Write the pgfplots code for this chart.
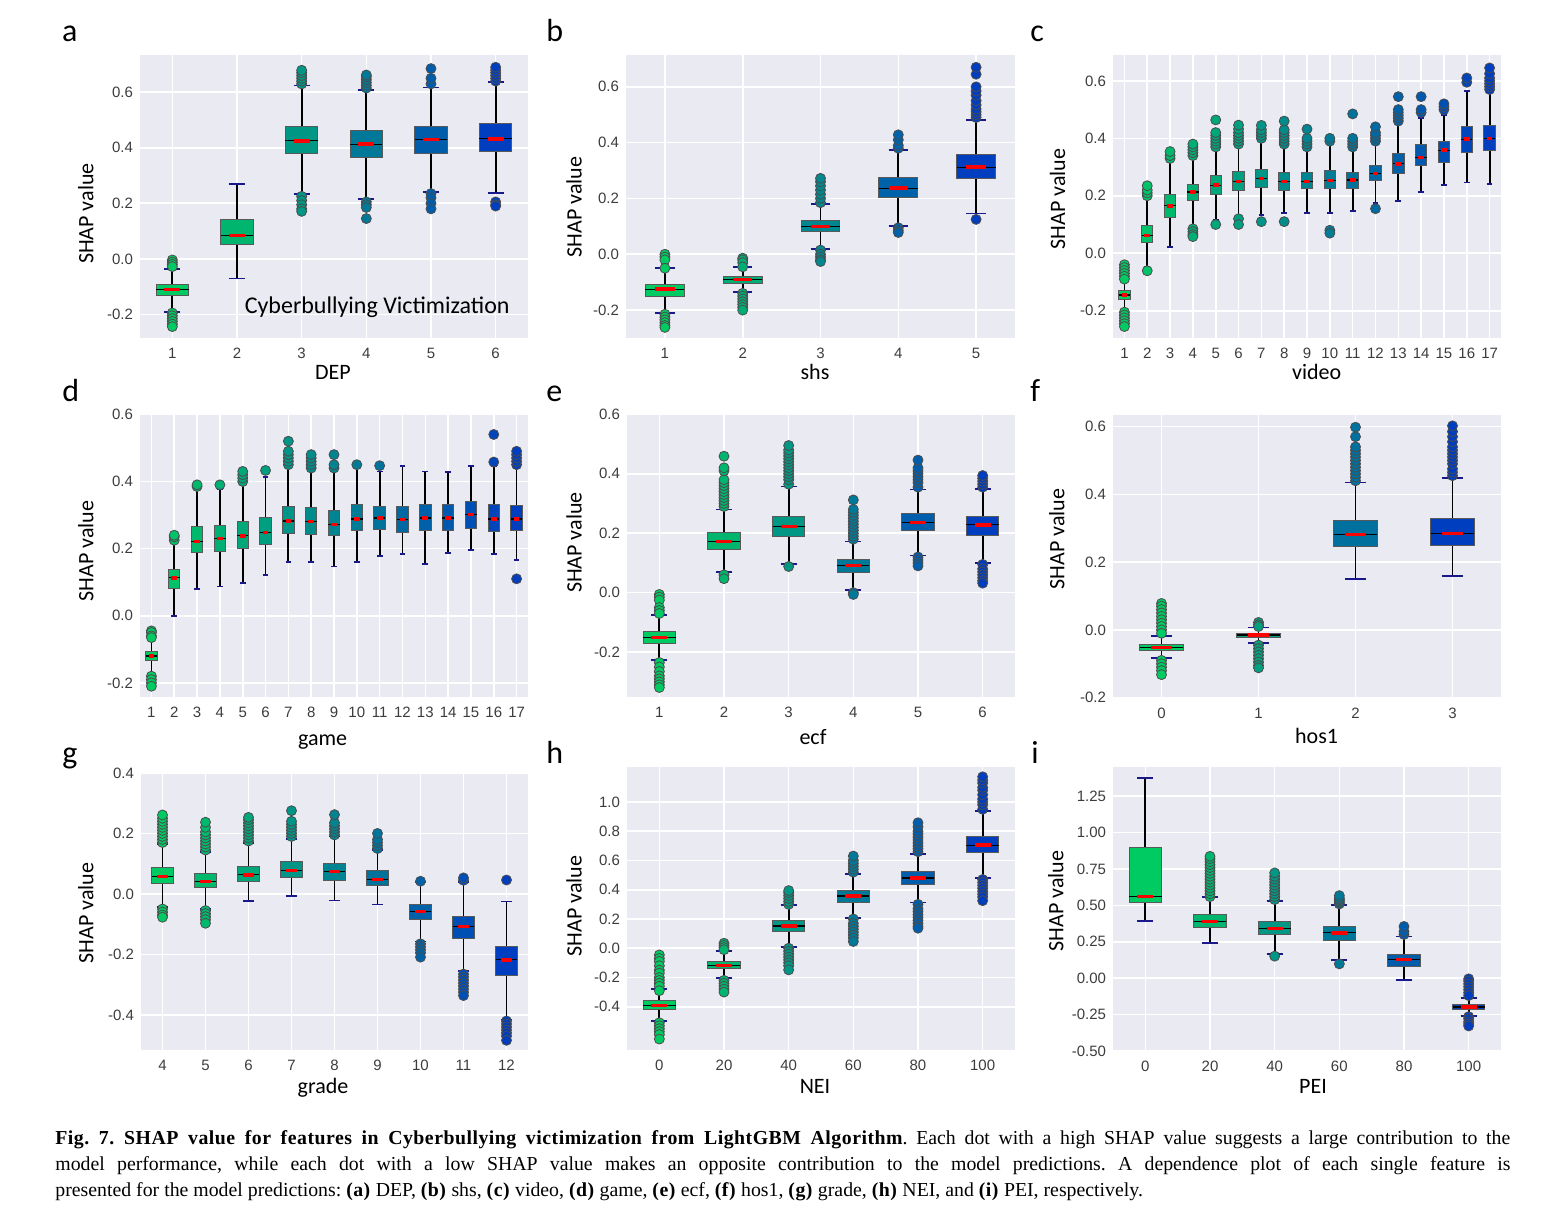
\documentclass[border=0pt]{standalone}
\usepackage{pgfplots}
\pgfplotsset{compat=1.18}
\usepgfplotslibrary{statistics}
\usepackage{fontspec}
\setmainfont{Carlito}
\newfontfamily\ticfont{Liberation Sans}
\newfontfamily\capfont[BoldFeatures={LetterSpace=2.5}]{Liberation Serif}
\definecolor{bgc}{HTML}{EAEAF2}
\definecolor{cg}{RGB}{0,202,98}
\definecolor{cb}{RGB}{0,62,192}
\definecolor{capc}{RGB}{25,25,140}
\definecolor{tickc}{RGB}{60,60,60}
\pgfplotsset{
  /pgfplots/boxplot/draw/lower whisker/.code={%
    \draw[black, line width=0.9pt] (boxplot cs:\pgfplotsboxplotvalue{lower whisker}) -- (boxplot cs:\pgfplotsboxplotvalue{lower quartile});
    \draw[capc, line width=0.9pt] (boxplot whisker cs:\pgfplotsboxplotvalue{lower whisker},0) -- (boxplot whisker cs:\pgfplotsboxplotvalue{lower whisker},1);
  },
  /pgfplots/boxplot/draw/upper whisker/.code={%
    \draw[black, line width=0.9pt] (boxplot cs:\pgfplotsboxplotvalue{upper whisker}) -- (boxplot cs:\pgfplotsboxplotvalue{upper quartile});
    \draw[capc, line width=0.9pt] (boxplot whisker cs:\pgfplotsboxplotvalue{upper whisker},0) -- (boxplot whisker cs:\pgfplotsboxplotvalue{upper whisker},1);
  },
  /pgfplots/boxplot/draw/median/.code={%
    \draw[black, line width=0.6pt] (boxplot box cs:\pgfplotsboxplotvalue{median},0) -- (boxplot box cs:\pgfplotsboxplotvalue{median},1);
    \draw[red, line width=1.7pt] (boxplot box cs:\pgfplotsboxplotvalue{median},0.25) -- (boxplot box cs:\pgfplotsboxplotvalue{median},0.75);
  },
  shapstyle/.style={
    scale only axis, anchor=north west,
    axis background/.style={fill=bgc},
    axis line style={draw=none},
    major tick length=0pt,
    tick style={draw=none},
    grid=major,
    grid style={draw=white, line width=0.8pt},
    tick label style={font=\ticfont\fontsize{7.5}{9}\selectfont, text=tickc},
    xticklabel style={yshift=-1.5pt},
    /pgf/number format/assume math mode=true,
    boxplot/draw direction=y,
    boxplot/box extend=0.5,
    boxplot/whisker extend=0.25,
    clip=false,
  },
}
% pos, lower whisker, lower quartile, median, upper quartile, upper whisker, percent green, outliers
\newcommand{\bx}[8]{%
  \addplot[boxplot prepared={draw position=#1, lower whisker=#2, lower quartile=#3, median=#4, upper quartile=#5, upper whisker=#6},
    boxplot/every box/.style={fill=cg!#7!cb, draw=black!65, line width=0.5pt},
    draw=black!65, mark=*, mark size=2.5pt,
    mark options={fill=cg!#7!cb, draw=black!70, line width=0.4pt, solid}]
    table[row sep=\\, y index=0] {v\\ #8};%
}
\newcommand{\bxn}[7]{%
  \addplot[boxplot prepared={draw position=#1, lower whisker=#2, lower quartile=#3, median=#4, upper quartile=#5, upper whisker=#6},
    boxplot/every box/.style={fill=cg!#7!cb, draw=black!65, line width=0.5pt},
    draw=black!65, mark=*, mark size=2.5pt,
    mark options={fill=cg!#7!cb, draw=black!70, line width=0.4pt, solid}]
    coordinates {};%
}
\begin{document}
\begin{tikzpicture}
\path[use as bounding box] (0,0) rectangle (771pt,-613pt);

% ---------------- a: DEP
\begin{axis}[shapstyle, at={(70pt,-27.5pt)}, width=194pt, height=141.5pt,
  xmin=0.5, xmax=6.5, ymin=-0.285, ymax=0.734,
  xtick={1,...,6}, xticklabels={1,2,3,4,5,6},
  ytick={-0.2,0,0.2,0.4,0.6}, yticklabels={-0.2,0.0,0.2,0.4,0.6}]
\bx{1}{-0.19}{-0.133}{-0.11}{-0.094}{-0.036}{100}{-0.004\\ -0.012\\ -0.02\\ -0.028\\ -0.195\\ -0.205\\ -0.215\\ -0.225\\ -0.235\\ -0.244\\}
\bxn{2}{-0.071}{0.053}{0.084}{0.143}{0.269}{86}
\bx{3}{0.233}{0.378}{0.425}{0.475}{0.624}{64}{0.63\\ 0.64\\ 0.65\\ 0.66\\ 0.67\\ 0.679\\ 0.225\\ 0.21\\ 0.195\\ 0.18\\ 0.171\\}
\bx{4}{0.216}{0.364}{0.413}{0.463}{0.608}{42}{0.615\\ 0.625\\ 0.635\\ 0.645\\ 0.655\\ 0.662\\ 0.205\\ 0.195\\ 0.185\\ 0.145\\}
\bx{5}{0.24}{0.381}{0.430}{0.475}{0.617}{22}{0.63\\ 0.65\\ 0.685\\ 0.235\\ 0.22\\ 0.2\\ 0.18\\}
\bx{6}{0.237}{0.386}{0.432}{0.486}{0.636}{0}{0.64\\ 0.65\\ 0.66\\ 0.67\\ 0.68\\ 0.69\\ 0.205\\ 0.195\\ 0.19\\}
\end{axis}

% ---------------- b: shs
\begin{axis}[shapstyle, at={(313pt,-27.5pt)}, width=194.5pt, height=141.5pt,
  xmin=0.5, xmax=5.5, ymin=-0.30, ymax=0.714,
  xtick={1,...,5}, xticklabels={1,2,3,4,5},
  ytick={-0.2,0,0.2,0.4,0.6}, yticklabels={-0.2,0.0,0.2,0.4,0.6}]
\bx{1}{-0.211}{-0.152}{-0.125}{-0.11}{-0.05}{100}{0.0\\ -0.01\\ -0.02\\ -0.05\\ -0.215\\ -0.225\\ -0.235\\ -0.245\\ -0.255\\ -0.262\\}
\bx{2}{-0.136}{-0.103}{-0.09}{-0.079}{-0.047}{80}{-0.014\\ -0.02\\ -0.03\\ -0.045\\ -0.14\\ -0.15\\ -0.16\\ -0.17\\ -0.18\\ -0.19\\ -0.2\\}
\bx{3}{0.019}{0.08}{0.1}{0.121}{0.179}{52}{0.185\\ 0.2\\ 0.215\\ 0.23\\ 0.245\\ 0.26\\ 0.272\\ 0.015\\ 0.0\\ -0.01\\ -0.02\\ -0.026\\}
\bx{4}{0.1}{0.203}{0.237}{0.275}{0.374}{26}{0.38\\ 0.39\\ 0.41\\ 0.428\\ 0.095\\ 0.085\\ 0.078\\}
\bx{5}{0.146}{0.272}{0.312}{0.356}{0.481}{0}{0.49\\ 0.5\\ 0.51\\ 0.52\\ 0.535\\ 0.55\\ 0.57\\ 0.585\\ 0.6\\ 0.645\\ 0.67\\ 0.125\\}
\end{axis}

% ---------------- c: video
\begin{axis}[shapstyle, at={(556.5pt,-27.5pt)}, width=194pt, height=141.5pt,
  xmin=0.5, xmax=17.5, ymin=-0.295, ymax=0.69,
  xtick={1,...,17}, xticklabels={1,2,3,4,5,6,7,8,9,10,11,12,13,14,15,16,17},
  ytick={-0.2,0,0.2,0.4,0.6}, yticklabels={-0.2,0.0,0.2,0.4,0.6}]
\bx{1}{-0.197}{-0.162}{-0.145}{-0.13}{-0.093}{100}{-0.04\\ -0.05\\ -0.06\\ -0.07\\ -0.08\\ -0.09\\ -0.205\\ -0.215\\ -0.225\\ -0.235\\ -0.245\\ -0.255\\}
\bx{2}{-0.046}{0.038}{0.061}{0.095}{0.197}{94}{0.2\\ 0.21\\ 0.22\\ 0.235\\ -0.061\\}
\bx{3}{0.021}{0.125}{0.165}{0.203}{0.32}{88}{0.33\\ 0.34\\ 0.354\\}
\bx{4}{0.093}{0.182}{0.213}{0.241}{0.33}{81}{0.34\\ 0.35\\ 0.36\\ 0.37\\ 0.38\\ 0.085\\ 0.075\\ 0.065\\ 0.058\\}
\bx{5}{0.115}{0.205}{0.237}{0.271}{0.36}{75}{0.37\\ 0.38\\ 0.39\\ 0.40\\ 0.41\\ 0.42\\ 0.464\\ 0.1\\}
\bx{6}{0.13}{0.22}{0.249}{0.283}{0.37}{69}{0.38\\ 0.39\\ 0.40\\ 0.41\\ 0.42\\ 0.432\\ 0.446\\ 0.12\\ 0.1\\}
\bx{7}{0.133}{0.228}{0.261}{0.293}{0.39}{62}{0.40\\ 0.41\\ 0.42\\ 0.43\\ 0.445\\ 0.11\\}
\bx{8}{0.141}{0.22}{0.249}{0.282}{0.37}{56}{0.38\\ 0.39\\ 0.40\\ 0.41\\ 0.42\\ 0.43\\ 0.46\\ 0.11\\}
\bx{9}{0.141}{0.226}{0.249}{0.28}{0.36}{50}{0.37\\ 0.38\\ 0.39\\ 0.40\\ 0.432\\}
\bx{10}{0.139}{0.224}{0.253}{0.288}{0.38}{44}{0.39\\ 0.40\\ 0.08\\ 0.07\\}
\bx{11}{0.148}{0.226}{0.255}{0.282}{0.36}{38}{0.37\\ 0.38\\ 0.39\\ 0.40\\ 0.485\\}
\bx{12}{0.176}{0.252}{0.278}{0.306}{0.38}{31}{0.39\\ 0.40\\ 0.41\\ 0.42\\ 0.44\\ 0.155\\}
\bx{13}{0.182}{0.278}{0.311}{0.348}{0.45}{25}{0.46\\ 0.47\\ 0.48\\ 0.49\\ 0.5\\ 0.545\\}
\bx{14}{0.214}{0.305}{0.334}{0.377}{0.47}{19}{0.49\\ 0.5\\ 0.545\\}
\bx{15}{0.238}{0.317}{0.359}{0.388}{0.48}{12}{0.5\\ 0.51\\ 0.52\\}
\bx{16}{0.246}{0.351}{0.397}{0.44}{0.565}{6}{0.595\\ 0.61\\}
\bx{17}{0.24}{0.359}{0.399}{0.443}{0.56}{0}{0.57\\ 0.58\\ 0.59\\ 0.6\\ 0.61\\ 0.625\\ 0.645\\}
\end{axis}

% ---------------- d: game
\begin{axis}[shapstyle, at={(70pt,-207pt)}, width=194pt, height=141.5pt,
  xmin=0.5, xmax=17.5, ymin=-0.242, ymax=0.601,
  xtick={1,...,17}, xticklabels={1,2,3,4,5,6,7,8,9,10,11,12,13,14,15,16,17},
  ytick={-0.2,0,0.2,0.4,0.6}, yticklabels={-0.2,0.0,0.2,0.4,0.6}]
\bx{1}{-0.17}{-0.134}{-0.12}{-0.106}{-0.074}{100}{-0.045\\ -0.05\\ -0.06\\ -0.065\\ -0.18\\ -0.19\\ -0.2\\ -0.21\\}
\bx{2}{0.0}{0.081}{0.113}{0.137}{0.215}{94}{0.225\\ 0.235\\ 0.24\\}
\bx{3}{0.079}{0.187}{0.222}{0.266}{0.38}{88}{0.385\\ 0.39\\}
\bx{4}{0.087}{0.192}{0.23}{0.268}{0.376}{81}{0.39\\}
\bx{5}{0.097}{0.201}{0.238}{0.281}{0.39}{75}{0.4\\ 0.41\\ 0.42\\ 0.43\\}
\bx{6}{0.122}{0.211}{0.248}{0.293}{0.414}{69}{0.433\\}
\bx{7}{0.161}{0.246}{0.282}{0.326}{0.44}{62}{0.45\\ 0.46\\ 0.47\\ 0.48\\ 0.49\\ 0.52\\}
\bx{8}{0.161}{0.243}{0.28}{0.321}{0.43}{56}{0.44\\ 0.45\\ 0.46\\ 0.47\\ 0.48\\}
\bx{9}{0.147}{0.238}{0.272}{0.315}{0.43}{50}{0.44\\ 0.45\\ 0.48\\}
\bx{10}{0.161}{0.253}{0.288}{0.33}{0.44}{44}{0.45\\}
\bx{11}{0.177}{0.256}{0.291}{0.326}{0.43}{38}{0.447\\}
\bxn{12}{0.184}{0.248}{0.286}{0.326}{0.445}{31}
\bxn{13}{0.154}{0.253}{0.291}{0.33}{0.43}{25}
\bxn{14}{0.187}{0.253}{0.291}{0.33}{0.429}{19}
\bxn{15}{0.197}{0.26}{0.301}{0.34}{0.445}{12}
\bx{16}{0.184}{0.25}{0.288}{0.33}{0.445}{6}{0.458\\ 0.54\\}
\bx{17}{0.166}{0.253}{0.288}{0.328}{0.44}{0}{0.45\\ 0.46\\ 0.47\\ 0.48\\ 0.49\\ 0.11\\}
\end{axis}

% ---------------- e: ecf
\begin{axis}[shapstyle, at={(313.5pt,-207pt)}, width=194pt, height=141.5pt,
  xmin=0.5, xmax=6.5, ymin=-0.351, ymax=0.601,
  xtick={1,...,6}, xticklabels={1,2,3,4,5,6},
  ytick={-0.2,0,0.2,0.4,0.6}, yticklabels={-0.2,0.0,0.2,0.4,0.6}]
\bx{1}{-0.227}{-0.171}{-0.151}{-0.132}{-0.076}{100}{-0.006\\ -0.015\\ -0.025\\ -0.05\\ -0.06\\ -0.07\\ -0.235\\ -0.25\\ -0.265\\ -0.28\\ -0.29\\ -0.3\\ -0.31\\ -0.319\\}
\bx{2}{0.069}{0.145}{0.172}{0.201}{0.28}{86}{0.29\\ 0.3\\ 0.31\\ 0.32\\ 0.33\\ 0.34\\ 0.35\\ 0.36\\ 0.37\\ 0.38\\ 0.41\\ 0.42\\ 0.459\\ 0.06\\ 0.047\\}
\bx{3}{0.097}{0.19}{0.223}{0.257}{0.357}{64}{0.365\\ 0.38\\ 0.39\\ 0.4\\ 0.41\\ 0.42\\ 0.43\\ 0.44\\ 0.45\\ 0.46\\ 0.47\\ 0.48\\ 0.495\\ 0.088\\}
\bx{4}{0.01}{0.069}{0.091}{0.111}{0.172}{42}{0.18\\ 0.19\\ 0.2\\ 0.21\\ 0.22\\ 0.23\\ 0.24\\ 0.25\\ 0.26\\ 0.27\\ 0.28\\ 0.312\\ 0.0\\ -0.006\\}
\bx{5}{0.125}{0.209}{0.237}{0.265}{0.347}{22}{0.355\\ 0.37\\ 0.38\\ 0.39\\ 0.4\\ 0.41\\ 0.42\\ 0.446\\ 0.12\\ 0.11\\ 0.1\\ 0.09\\}
\bx{6}{0.1}{0.192}{0.228}{0.257}{0.349}{0}{0.355\\ 0.365\\ 0.375\\ 0.385\\ 0.394\\ 0.095\\ 0.08\\ 0.07\\ 0.06\\ 0.05\\ 0.04\\ 0.032\\}
\end{axis}

% ---------------- f: hos1
\begin{axis}[shapstyle, at={(556.5pt,-207.5pt)}, width=194pt, height=141.5pt,
  boxplot/box extend=0.45, boxplot/whisker extend=0.22,
  xmin=-0.5, xmax=3.5, ymin=-0.201, ymax=0.634,
  xtick={0,...,3}, xticklabels={0,1,2,3},
  ytick={-0.2,0,0.2,0.4,0.6}, yticklabels={-0.2,0.0,0.2,0.4,0.6}]
\bx{0}{-0.083}{-0.061}{-0.052}{-0.044}{-0.019}{100}{0.078\\ 0.07\\ 0.06\\ 0.05\\ 0.04\\ 0.03\\ 0.02\\ 0.01\\ 0.0\\ -0.01\\ -0.09\\ -0.1\\ -0.11\\ -0.12\\ -0.132\\}
\bx{1}{-0.038}{-0.022}{-0.015}{-0.01}{0.007}{70}{0.022\\ 0.015\\ 0.01\\ -0.045\\ -0.055\\ -0.065\\ -0.075\\ -0.085\\ -0.095\\ -0.105\\ -0.112\\}
\bx{2}{0.15}{0.247}{0.282}{0.323}{0.435}{36}{0.44\\ 0.45\\ 0.46\\ 0.47\\ 0.48\\ 0.49\\ 0.5\\ 0.51\\ 0.52\\ 0.53\\ 0.54\\ 0.57\\ 0.598\\}
\bx{3}{0.159}{0.249}{0.284}{0.329}{0.448}{0}{0.455\\ 0.465\\ 0.475\\ 0.49\\ 0.5\\ 0.51\\ 0.52\\ 0.53\\ 0.54\\ 0.555\\ 0.57\\ 0.585\\ 0.602\\}
\end{axis}

% ---------------- g: grade
\begin{axis}[shapstyle, at={(70.5pt,-386pt)}, width=193.5pt, height=139pt,
  xmin=3.5, xmax=12.5, ymin=-0.516, ymax=0.403,
  xtick={4,...,12}, xticklabels={4,5,6,7,8,9,10,11,12},
  ytick={-0.4,-0.2,0,0.2,0.4}, yticklabels={-0.4,-0.2,0.0,0.2,0.4}]
\bx{4}{-0.044}{0.033}{0.058}{0.086}{0.165}{100}{0.17\\ 0.18\\ 0.19\\ 0.2\\ 0.21\\ 0.22\\ 0.23\\ 0.24\\ 0.25\\ 0.261\\ -0.05\\ -0.06\\ -0.07\\ -0.077\\}
\bx{5}{-0.05}{0.02}{0.042}{0.068}{0.138}{88}{0.145\\ 0.155\\ 0.165\\ 0.175\\ 0.185\\ 0.195\\ 0.205\\ 0.22\\ 0.237\\ -0.055\\ -0.065\\ -0.075\\ -0.085\\ -0.097\\}
\bx{6}{-0.024}{0.041}{0.063}{0.091}{0.168}{75}{0.175\\ 0.185\\ 0.195\\ 0.205\\ 0.215\\ 0.225\\ 0.235\\ 0.245\\ 0.253\\}
\bx{7}{-0.006}{0.053}{0.077}{0.107}{0.182}{62}{0.19\\ 0.2\\ 0.21\\ 0.22\\ 0.23\\ 0.24\\ 0.275\\}
\bx{8}{-0.022}{0.044}{0.074}{0.102}{0.19}{50}{0.195\\ 0.205\\ 0.215\\ 0.225\\ 0.235\\ 0.262\\}
\bx{9}{-0.035}{0.028}{0.047}{0.077}{0.146}{38}{0.15\\ 0.16\\ 0.17\\ 0.18\\ 0.2\\}
\bx{10}{-0.157}{-0.085}{-0.058}{-0.035}{0.039}{25}{0.042\\ -0.165\\ -0.175\\ -0.185\\ -0.195\\ -0.209\\}
\bx{11}{-0.256}{-0.146}{-0.107}{-0.074}{0.039}{12}{0.045\\ 0.053\\ -0.265\\ -0.275\\ -0.285\\ -0.295\\ -0.305\\ -0.315\\ -0.325\\ -0.336\\}
\bx{12}{-0.415}{-0.27}{-0.218}{-0.173}{-0.025}{0}{0.046\\ -0.42\\ -0.43\\ -0.44\\ -0.45\\ -0.46\\ -0.47\\ -0.484\\}
\end{axis}

% ---------------- h: NEI
\begin{axis}[shapstyle, at={(313.5pt,-383.5pt)}, width=194pt, height=141.5pt,
  xmin=-0.5, xmax=5.5, ymin=-0.696, ymax=1.239,
  xtick={0,...,5}, xticklabels={0,20,40,60,80,100},
  ytick={-0.4,-0.2,0,0.2,0.4,0.6,0.8,1.0}, yticklabels={-0.4,-0.2,0.0,0.2,0.4,0.6,0.8,1.0}]
\bx{0}{-0.496}{-0.416}{-0.391}{-0.357}{-0.278}{100}{-0.046\\ -0.07\\ -0.09\\ -0.12\\ -0.15\\ -0.17\\ -0.2\\ -0.22\\ -0.24\\ -0.26\\ -0.29\\ -0.51\\ -0.53\\ -0.55\\ -0.57\\ -0.59\\ -0.621\\}
\bx{1}{-0.205}{-0.141}{-0.118}{-0.091}{-0.018}{86}{0.034\\ 0.02\\ 0.005\\ -0.01\\ -0.22\\ -0.24\\ -0.26\\ -0.28\\ -0.3\\}
\bx{2}{0.007}{0.114}{0.152}{0.187}{0.294}{64}{0.3\\ 0.32\\ 0.34\\ 0.36\\ 0.38\\ 0.394\\ 0.0\\ -0.02\\ -0.04\\ -0.06\\ -0.08\\ -0.1\\ -0.12\\ -0.148\\}
\bx{3}{0.205}{0.316}{0.357}{0.394}{0.51}{42}{0.52\\ 0.54\\ 0.56\\ 0.58\\ 0.6\\ 0.63\\ 0.2\\ 0.17\\ 0.15\\ 0.13\\ 0.11\\ 0.09\\ 0.07\\ 0.046\\}
\bx{4}{0.312}{0.437}{0.48}{0.523}{0.646}{22}{0.66\\ 0.68\\ 0.7\\ 0.72\\ 0.74\\ 0.76\\ 0.78\\ 0.8\\ 0.83\\ 0.858\\ 0.3\\ 0.27\\ 0.25\\ 0.23\\ 0.21\\ 0.19\\ 0.17\\ 0.15\\ 0.137\\}
\bx{5}{0.478}{0.653}{0.705}{0.767}{0.937}{0}{0.95\\ 0.98\\ 1.0\\ 1.02\\ 1.05\\ 1.08\\ 1.1\\ 1.13\\ 1.15\\ 1.172\\ 0.47\\ 0.45\\ 0.43\\ 0.41\\ 0.39\\ 0.37\\ 0.35\\ 0.325\\}
\end{axis}

% ---------------- i: PEI
\begin{axis}[shapstyle, at={(556.5pt,-383.5pt)}, width=194pt, height=142pt,
  xmin=-0.5, xmax=5.5, ymin=-0.501, ymax=1.451,
  xtick={0,...,5}, xticklabels={0,20,40,60,80,100},
  ytick={-0.5,-0.25,0,0.25,0.5,0.75,1.0,1.25}, yticklabels={-0.50,-0.25,0.00,0.25,0.50,0.75,1.00,1.25}]
\bxn{0}{0.391}{0.517}{0.563}{0.895}{1.375}{100}
\bx{1}{0.243}{0.35}{0.389}{0.437}{0.556}{86}{0.56\\ 0.58\\ 0.6\\ 0.62\\ 0.64\\ 0.66\\ 0.68\\ 0.7\\ 0.72\\ 0.74\\ 0.76\\ 0.78\\ 0.8\\ 0.82\\ 0.837\\}
\bx{2}{0.167}{0.297}{0.339}{0.389}{0.531}{64}{0.54\\ 0.56\\ 0.58\\ 0.6\\ 0.62\\ 0.64\\ 0.66\\ 0.68\\ 0.7\\ 0.723\\ 0.151\\}
\bx{3}{0.126}{0.259}{0.311}{0.355}{0.503}{42}{0.51\\ 0.52\\ 0.53\\ 0.54\\ 0.55\\ 0.567\\ 0.098\\}
\bx{4}{-0.011}{0.08}{0.126}{0.162}{0.286}{22}{0.3\\ 0.32\\ 0.355\\}
\bx{5}{-0.261}{-0.217}{-0.199}{-0.183}{-0.137}{0}{-0.005\\ -0.02\\ -0.04\\ -0.06\\ -0.08\\ -0.1\\ -0.12\\ -0.265\\ -0.28\\ -0.3\\ -0.315\\ -0.329\\}
\end{axis}

% ---------------- labels
\begin{scope}[every node/.style={font=\fontsize{11}{13}\selectfont, inner sep=0pt}]
\node[anchor=base] at (166.5pt,-189.7pt) {DEP};
\node[anchor=base] at (407.5pt,-189.7pt) {shs};
\node[anchor=base] at (658.3pt,-189.7pt) {video};
\node[anchor=base] at (161.3pt,-372.5pt) {game};
\node[anchor=base] at (406.5pt,-372pt) {ecf};
\node[anchor=base] at (658.3pt,-371.7pt) {hos1};
\node[anchor=base] at (161.5pt,-546.5pt) {grade};
\node[anchor=base] at (407.5pt,-546.7pt) {NEI};
\node[anchor=base] at (656.5pt,-546.7pt) {PEI};
\node[anchor=base, rotate=90] at (46.7pt,-106.8pt) {SHAP value};
\node[anchor=base, rotate=90] at (290.8pt,-103.5pt) {SHAP value};
\node[anchor=base, rotate=90] at (532.5pt,-99.5pt) {SHAP value};
\node[anchor=base, rotate=90] at (46.7pt,-275.4pt) {SHAP value};
\node[anchor=base, rotate=90] at (290.8pt,-271.3pt) {SHAP value};
\node[anchor=base, rotate=90] at (532.2pt,-269.5pt) {SHAP value};
\node[anchor=base, rotate=90] at (46.7pt,-456.5pt) {SHAP value};
\node[anchor=base, rotate=90] at (290.8pt,-453pt) {SHAP value};
\node[anchor=base, rotate=90] at (531.7pt,-450.5pt) {SHAP value};
\end{scope}
\node[anchor=base west, inner sep=0pt, font=\fontsize{12}{14}\selectfont] at (122.2pt,-156.7pt) {Cyberbullying Victimization};
\begin{scope}[every node/.style={font=\fontsize{16}{18}\selectfont, inner sep=0pt, anchor=base west}]
\node at (30.8pt,-20.8pt) {a};
\node at (273pt,-20.8pt) {b};
\node at (515pt,-20.8pt) {c};
\node at (31pt,-200.5pt) {d};
\node at (273pt,-200.5pt) {e};
\node at (515pt,-200.5pt) {f};
\node at (31pt,-381.5pt) {g};
\node at (273pt,-381.5pt) {h};
\node at (515.5pt,-381.5pt) {i};
\end{scope}
% ---------------- caption
\node[anchor=north west, inner sep=0pt, text width=727.5pt, align=justify,
  font=\capfont\fontsize{9.9}{12.9}\selectfont] at (27.5pt,-565.3pt)
{\hyphenpenalty=10000\frenchspacing\textbf{Fig.~7.\enspace SHAP value for features in Cyberbullying victimization from LightGBM Algorithm}. Each dot with a high SHAP value suggests a large contribution to the\linebreak model performance, while each dot with a low SHAP value makes an opposite contribution to the model predictions. A dependence plot of each single feature is\linebreak presented for the model predictions: \textbf{(a)} DEP, \textbf{(b)} shs, \textbf{(c)} video, \textbf{(d)} game, \textbf{(e)} ecf, \textbf{(f)} hos1, \textbf{(g)} grade, \textbf{(h)} NEI, and \textbf{(i)} PEI, respectively.};
\end{tikzpicture}
\end{document}
